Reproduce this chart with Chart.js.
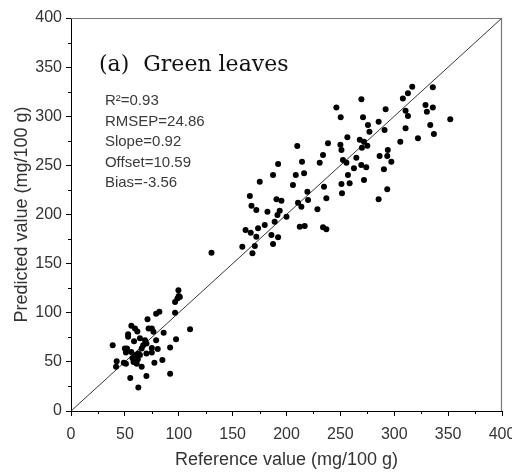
<!DOCTYPE html>
<html>
<head>
<meta charset="utf-8">
<title>Green leaves - predicted vs reference</title>
<script src="https://cdn.jsdelivr.net/npm/chart.js@4.4.1/dist/chart.umd.min.js"></script>
<style>
    html, body { margin: 0; padding: 0; background: #fff; }
    #wrap { width: 512px; height: 472px; }
</style>
</head>
<body>
<div id="wrap"><canvas id="scatter-chart" width="512" height="472"></canvas></div>
<script>
// Samples: [reference, predicted] in mg/100 g
const lowGroup = [
    [38.7, 67], [42.4, 50.7], [41.8, 45], [49, 49], [51, 48], [55, 33.7], [62.5, 23.8], [70, 35.7],
    [65.6, 45], [61, 48], [77.4, 49], [84.8, 52], [92, 64.6], [92, 38], [97.5, 73], [86, 79.6],
    [110.5, 83.3], [71, 93.5], [79, 99], [82, 101], [96.6, 100], [96.6, 111], [98.8, 114.6], [100, 117],
    [99.7, 123], [101, 116], [56, 86.7], [59.4, 84], [61.6, 81], [53, 78], [53, 75.5], [50, 63.6],
    [52, 63.6], [51, 59.5], [56, 60], [58.5, 71], [64, 74], [68.7, 72], [72, 84], [75, 84],
    [76.5, 80.6], [67, 67], [70, 68.7], [65.6, 63.6], [62.5, 58.5], [60, 57], [64, 57], [70, 58.5],
    [75, 59.5], [57, 54], [62, 52.7], [75, 64], [80.5, 63], [79, 72], [58, 50]
];
const midGroup = [
    [175.2, 233.4], [166, 218.8], [167.5, 209], [172, 204.6], [182.3, 202.9], [179.8, 189.3], [173.6, 186],
    [162, 184.2], [166.8, 181.5], [172, 177.4], [159, 167.2], [170.6, 168], [168.4, 160.5], [130.4, 161],
    [210, 269.7], [238.5, 272.5], [192.2, 251.4], [214.4, 253.7], [233.9, 260.5], [230.8, 252.7],
    [187.5, 240.2], [208.6, 240.2], [216.3, 242], [206, 230], [234.8, 228.3], [219.4, 223.2],
    [190.7, 215.5], [195.3, 214], [210.7, 212], [220, 214.8], [237, 216.5], [213.8, 208],
    [193.7, 203.9], [191.6, 199.5], [228.7, 205.3], [200, 197.8], [189, 192.7], [212.3, 187.6],
    [216.9, 188.3], [233.9, 187], [237, 185], [186, 179.1], [192.2, 176.8], [187.5, 170]
];
const highGroup = [
    [269.5, 317.2], [246.3, 309], [250.3, 299], [292, 307], [271, 299], [275.6, 291], [285.5, 294.5],
    [291, 286], [277, 284.3], [271.9, 274], [256.5, 278.6], [251, 265.6], [250, 271], [252.4, 255.5],
    [255.6, 252.7], [264.8, 257.8], [294, 265.6], [293.5, 259.5], [286.4, 259.5], [297.3, 253.7],
    [269.4, 250.4], [274, 248], [262.6, 247], [290.4, 246], [257, 240.2], [251, 231], [258.6, 231.7],
    [271.9, 235], [251.5, 221.6], [293.5, 225.6], [285.5, 215.5], [268, 276], [275, 270], [270, 268],
    [316.7, 330], [312.7, 323.3], [308, 318], [335.8, 329.4], [329, 311.5], [330.3, 304.6],
    [335.8, 309], [310.5, 305.7], [312.7, 300.2], [352, 297], [310.5, 287.7], [333.4, 291],
    [336.8, 282], [322, 277.5], [305.6, 274]
];

const axisTicks = [0, 50, 100, 150, 200, 250, 300, 350, 400];
const minorTicks = [25, 75, 125, 175, 225, 275, 325, 375];
const panelLabel = '(a)  Green leaves';
const statLines = ['R\u00B2=0.93', 'RMSEP=24.86', 'Slope=0.92', 'Offset=10.59', 'Bias=-3.56'];

const samples = lowGroup.concat(midGroup, highGroup).map(p => ({ x: p[0], y: p[1] }));
const identityLine = [{ x: axisTicks[0], y: axisTicks[0] }, { x: axisTicks[axisTicks.length - 1], y: axisTicks[axisTicks.length - 1] }];

const SANS = '"Liberation Sans", Arial, sans-serif';
const TEXT = '#333';

// minor ticks, frame on top/right, panel text
const decorPlugin = {
    id: 'decor',
    afterDraw(chart) {
        const { ctx, chartArea: a, scales: { x, y } } = chart;
        ctx.save();
        ctx.strokeStyle = '#777';
        ctx.lineWidth = 1.2;
        ctx.beginPath();
        ctx.moveTo(a.left, a.top + 0.5);
        ctx.lineTo(a.right - 0.5, a.top + 0.5);
        ctx.lineTo(a.right - 0.5, a.bottom);
        ctx.stroke();

        ctx.strokeStyle = '#000';
        ctx.lineWidth = 1;
        ctx.beginPath();
        minorTicks.forEach(v => {
            const px = Math.round(x.getPixelForValue(v)) + 0.5;
            ctx.moveTo(px, a.bottom);
            ctx.lineTo(px, a.bottom + 3);
            const py = Math.round(y.getPixelForValue(v)) + 0.5;
            ctx.moveTo(a.left, py);
            ctx.lineTo(a.left - 3, py);
        });
        ctx.stroke();

        ctx.fillStyle = '#111';
        ctx.textBaseline = 'middle';
        ctx.textAlign = 'left';
        ctx.font = '22px "DejaVu Serif", "Liberation Serif", serif';
        ctx.fillText(panelLabel, x.getPixelForValue(26), y.getPixelForValue(352));

        ctx.fillStyle = '#3a3a3a';
        ctx.font = '15px ' + SANS;
        statLines.forEach((s, i) => {
            ctx.fillText(s, x.getPixelForValue(31.5), y.getPixelForValue(315.5 - i * 20.9));
        });
        ctx.restore();
    }
};

const ctx = document.getElementById('scatter-chart').getContext('2d');
new Chart(ctx, {
    type: 'scatter',
    data: {
        datasets: [
            {
                data: samples,
                backgroundColor: '#000',
                borderColor: '#000',
                pointRadius: 3,
                pointHoverRadius: 3,
                borderWidth: 0
            },
            {
                type: 'line',
                data: identityLine,
                borderColor: '#222',
                borderWidth: 0.9,
                pointRadius: 0,
                fill: false
            }
        ]
    },
    options: {
        responsive: false,
        animation: false,
        layout: { padding: { top: 18, right: 10, left: 0, bottom: 0 } },
        plugins: {
            legend: { display: false },
            tooltip: { enabled: false }
        },
        scales: {
            x: {
                type: 'linear',
                min: 0,
                max: 400,
                afterBuildTicks: (scale) => { scale.ticks = axisTicks.map(v => ({ value: v })); },
                afterFit: (scale) => { scale.height = 61; scale.paddingLeft = 0; scale.paddingRight = 0; },
                ticks: { color: TEXT, font: { family: SANS, size: 16 }, padding: 8.5, maxRotation: 0 },
                grid: { drawOnChartArea: false, tickLength: 5, tickColor: '#000', tickWidth: 1 },
                border: { color: '#000', width: 1 },
                title: {
                    display: true,
                    text: 'Reference value (mg/100 g)',
                    color: TEXT,
                    font: { family: SANS, size: 18 },
                    padding: { top: 0, bottom: 1 }
                }
            },
            y: {
                type: 'linear',
                min: 0,
                max: 400,
                afterBuildTicks: (scale) => { scale.ticks = axisTicks.map(v => ({ value: v })); },
                afterFit: (scale) => { scale.width = 71; scale.paddingTop = 0; scale.paddingBottom = 0; },
                ticks: { color: TEXT, font: { family: SANS, size: 16 }, padding: 4 },
                grid: { drawOnChartArea: false, tickLength: 5, tickColor: '#000', tickWidth: 1 },
                border: { color: '#000', width: 1 },
                title: {
                    display: true,
                    text: 'Predicted value (mg/100 g)',
                    color: TEXT,
                    font: { family: SANS, size: 18 },
                    padding: { top: 11, bottom: 0 }
                }
            }
        }
    },
    plugins: [decorPlugin]
});
</script>
</body>
</html>
